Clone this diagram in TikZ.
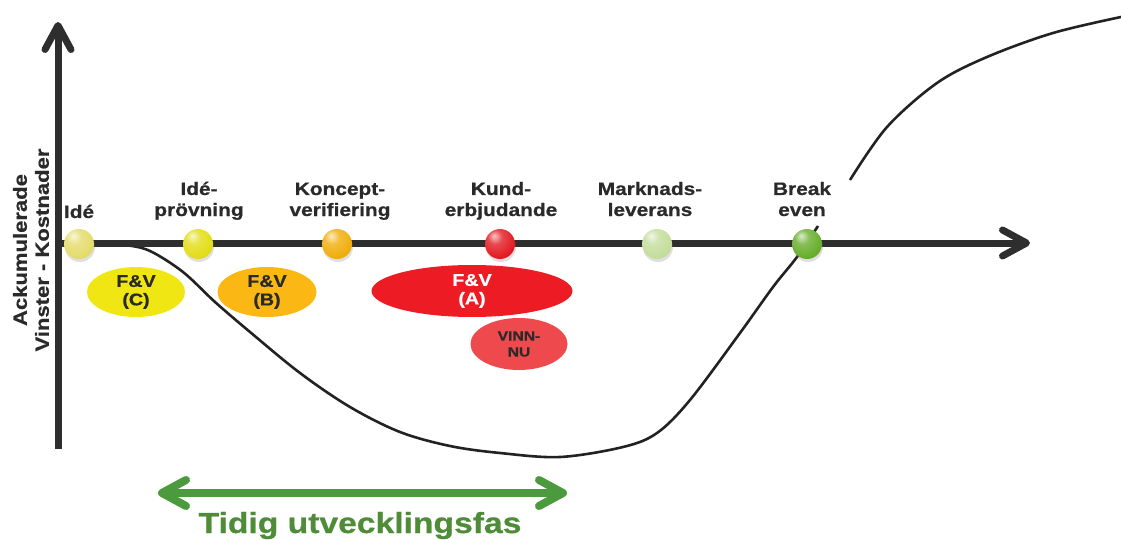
\documentclass[tikz,border=0pt]{standalone}
\usepackage{fontspec}
\newfontfamily\lab{Liberation Sans}[FakeStretch=1.16, FakeBold=0.7]
\usetikzlibrary{arrows.meta,shadows,shapes.geometric}

% glossy ball shading driven by the current ball colour
\makeatletter
\pgfdeclareradialshading[tikz@ball]{glossy}{\pgfqpoint{-10bp}{14bp}}{%
  color(0bp)=(tikz@ball!25!white); color(12bp)=(tikz@ball!80!white);
  color(30bp)=(tikz@ball); color(50bp)=(tikz@ball!88!black);
  color(70bp)=(tikz@ball!75!black)}
\makeatother

\definecolor{axisgray}{HTML}{2E2E2E}
\definecolor{curveblk}{HTML}{222222}
\definecolor{lblgray}{HTML}{2A2A2A}
\definecolor{dotIde}{HTML}{E4DC6A}
\definecolor{dotProv}{HTML}{E2DD17}
\definecolor{dotKonc}{HTML}{F0AE0C}
\definecolor{dotKund}{HTML}{E31B23}
\definecolor{dotMark}{HTML}{C4DD9C}
\definecolor{dotBreak}{HTML}{68AE2C}
\definecolor{fvC}{HTML}{F0E614}
\definecolor{fvB}{HTML}{FBB814}
\definecolor{fvA}{HTML}{ED1C24}
\definecolor{vinn}{HTML}{EE4A4E}
\definecolor{phase}{HTML}{4C9A3E}
\definecolor{phasetxt}{HTML}{4E8C38}

\tikzset{
  chev/.tip={Straight Barb[length=24pt,width=26pt,round]},
  axis/.style={draw=axisgray, line width=7pt, -chev},
  curve/.style={draw=curveblk, line width=2.6pt},
  dot/.style={circle, inner sep=0pt, minimum size=30pt, ball color=#1,
    shading=glossy, drop shadow={shadow xshift=1pt, shadow yshift=-3pt, opacity=0.25}},
  lbl/.style={font=\lab\bfseries\fontsize{18}{21}\selectfont, text=lblgray,
    align=center, inner sep=0pt},
  fv/.style={ellipse, fill=#1, inner sep=0pt, align=center, text=lblgray,
    font=\lab\bfseries\fontsize{17}{18.5}\selectfont},
  phasearrow/.style={draw=phase, line width=8pt, chev-chev},
}

\begin{document}
\begin{tikzpicture}[x=1pt,y=-1pt]
\useasboundingbox (0,0) rectangle (1121,540);

% funding ellipses
\node[fv=fvC, minimum width=98pt, minimum height=50pt] (fvc) at (136,292) {F\&V\\(C)};
\node[fv=fvB, minimum width=99pt, minimum height=50pt] (fvb) at (267,292) {F\&V\\(B)};
\node[fv=fvA, minimum width=201pt, minimum height=52pt, text=white] (fva) at (472,291) {F\&V\\(A)};
\node[fv=vinn, minimum width=97pt, minimum height=52pt,
  font=\lab\bfseries\fontsize{13.5}{16}\selectfont] (vinnnu) at (519,344) {VINN-\\NU};

% accumulated profit curve
\draw[curve] plot[smooth, tension=0.55] coordinates {
  (100,244) (125,245) (150,251) (183,272) (215,302) (250,332) (300,373)
  (350,407) (400,432) (450,446) (500,453) (560,457) (623,447) (657,433)
  (690,400) (740,333) (773,287) (797,257) (818,226)};
\draw[curve] plot[smooth, tension=0.55] coordinates {
  (850,180) (887,127) (937,83) (987,57) (1053,33) (1121,17)};

% axes
\coordinate (O) at (58,243);
\coordinate (ybot) at (58,449);
\coordinate (ytop) at (58,22);
\coordinate (xend) at (1030,243);
\draw[axis] (ybot) -- (ytop);
\draw[axis] (O) -- (xend);

% milestones
\node[dot=dotIde]   (ide)   at (79,244)  {};
\node[dot=dotProv]  (prov)  at (198,244) {};
\node[dot=dotKonc]  (konc)  at (337,244) {};
\node[dot=dotKund]  (kund)  at (500,244) {};
\node[dot=dotMark]  (mark)  at (657,244) {};
\node[dot=dotBreak] (break) at (807,244) {};

% multi-line labels sit on the baseline of their last line
\node[lbl, anchor=base] (tIde)   at (79,218)  {Idé};
\node[lbl, anchor=base] (tProv)  at (199,216) {Idé-\\prövning};
\node[lbl, anchor=base] (tKonc)  at (340,216) {Koncept-\\verifiering};
\node[lbl, anchor=base] (tKund)  at (501,216) {Kund-\\erbjudande};
\node[lbl, anchor=base] (tMark)  at (650,216) {Marknads-\\leverans};
\node[lbl, anchor=base] (tBreak) at (802,216) {Break\\even};

% vertical axis title
\node[lbl, rotate=90, font=\lab\bfseries\fontsize{19}{22}\selectfont] (ylab) at (31,250)
  {Ackumulerade\\Vinster - Kostnader};

% early phase span
\coordinate (pl) at (158,493);
\coordinate (pr) at (567,493);
\draw[phasearrow] (pl) -- (pr);
\node[anchor=base, inner sep=0pt, text=phasetxt,
  font=\lab\bfseries\fontsize{29}{32}\selectfont] (phase) at (360,533) {Tidig utvecklingsfas};
\end{tikzpicture}
\end{document}
